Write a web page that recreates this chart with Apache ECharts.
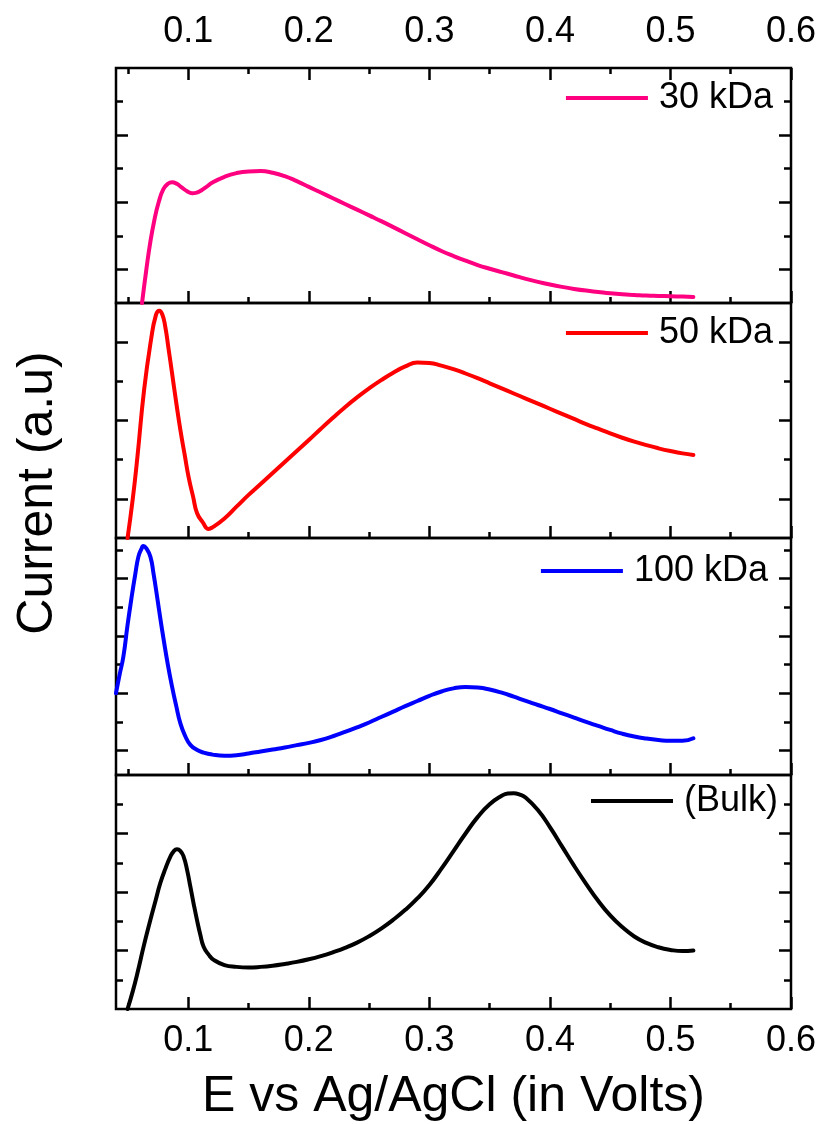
<!DOCTYPE html>
<html>
<head>
<meta charset="utf-8">
<script src="https://cdn.jsdelivr.net/npm/echarts@6/dist/echarts.min.js"></script>
<style>html,body{margin:0;padding:0;background:#fff}#c{width:824px;height:1124px}</style>
</head>
<body>
<div id="c"></div>
<script>
// ---------- data ----------
const xTickValues = [0.1, 0.2, 0.3, 0.4, 0.5, 0.6];
const xMinorTickValues = [0.05, 0.15, 0.25, 0.35, 0.45, 0.55];
const seriesNames = ['30 kDa', '50 kDa', '100 kDa', '(Bulk)'];

const x30 = [0.0616, 0.0650, 0.0685, 0.0720, 0.0754, 0.0793, 0.0830, 0.0865, 0.0905, 0.0942, 0.0990, 0.1031, 0.1070, 0.1110, 0.1150,
  0.12, 0.13, 0.14, 0.15, 0.16, 0.17, 0.18, 0.19, 0.20, 0.21, 0.22, 0.23, 0.24, 0.25, 0.26, 0.27, 0.28, 0.29, 0.30,
  0.31, 0.32, 0.33, 0.34, 0.35, 0.36, 0.37, 0.38, 0.39, 0.40, 0.41, 0.42, 0.43, 0.44, 0.45, 0.46, 0.47, 0.48, 0.49, 0.50, 0.51, 0.519];
const y30 = [0, 0.95, 1.82, 2.50, 3.0, 3.39, 3.55, 3.60, 3.55, 3.45, 3.33, 3.27, 3.29, 3.36, 3.46,
  3.59, 3.76, 3.87, 3.92, 3.93, 3.88, 3.78, 3.63, 3.46, 3.29, 3.12, 2.95, 2.78, 2.61, 2.44, 2.26, 2.08, 1.90, 1.72,
  1.55, 1.40, 1.26, 1.13, 1.02, 0.92, 0.82, 0.72, 0.63, 0.55, 0.48, 0.42, 0.37, 0.33, 0.29, 0.26, 0.24, 0.22, 0.21, 0.20, 0.19, 0.18];

const x50 = [0.0496, 0.0540, 0.0578, 0.0633, 0.0690, 0.0731, 0.0759, 0.0785, 0.0809, 0.0835, 0.0865, 0.0900, 0.0934, 0.0970, 0.1002, 0.1040, 0.1072, 0.1120, 0.1168,
  0.12, 0.13, 0.14, 0.15, 0.16, 0.17, 0.18, 0.19, 0.20, 0.21, 0.22, 0.23, 0.24, 0.25, 0.26, 0.27, 0.28, 0.29, 0.30,
  0.31, 0.32, 0.33, 0.34, 0.35, 0.36, 0.37, 0.38, 0.39, 0.40, 0.41, 0.42, 0.43, 0.44, 0.45, 0.46, 0.47, 0.48, 0.49, 0.50, 0.51, 0.519];
const y50 = [0, 1.02, 2.08, 3.78, 5.05, 5.69, 5.80, 5.70, 5.39, 4.85, 4.21, 3.45, 2.76, 2.12, 1.56, 1.05, 0.64, 0.40, 0.23,
  0.27, 0.50, 0.80, 1.10, 1.38, 1.66, 1.94, 2.22, 2.50, 2.79, 3.07, 3.34, 3.59, 3.82, 4.03, 4.22, 4.38, 4.48, 4.47,
  4.40, 4.31, 4.20, 4.08, 3.95, 3.82, 3.69, 3.56, 3.43, 3.30, 3.17, 3.04, 2.91, 2.79, 2.67, 2.56, 2.46, 2.37, 2.29, 2.22, 2.16, 2.12];

const x100 = [0.0400, 0.0430, 0.0461, 0.0495, 0.0530, 0.0560, 0.0586, 0.0610, 0.0627, 0.0650, 0.0685, 0.0712, 0.0741, 0.0768, 0.0796, 0.0830, 0.0865, 0.0900, 0.0934, 0.0975, 0.1017, 0.1070, 0.1127,
  0.12, 0.13, 0.14, 0.15, 0.16, 0.17, 0.18, 0.19, 0.20, 0.21, 0.22, 0.23, 0.24, 0.25, 0.26, 0.27, 0.28, 0.29, 0.30,
  0.31, 0.32, 0.33, 0.34, 0.35, 0.36, 0.37, 0.38, 0.39, 0.40, 0.41, 0.42, 0.43, 0.44, 0.45, 0.46, 0.47, 0.48, 0.49, 0.50, 0.51, 0.519];
const y100 = [2.85, 3.50, 4.12, 5.20, 6.21, 7.00, 7.61, 7.87, 7.98, 7.91, 7.61, 7.00, 6.21, 5.45, 4.70, 3.85, 3.08, 2.40, 1.80, 1.35, 1.05, 0.88, 0.78,
  0.71, 0.67, 0.69, 0.75, 0.82, 0.89, 0.96, 1.04, 1.12, 1.22, 1.35, 1.50, 1.66, 1.83, 2.02, 2.21, 2.40, 2.58, 2.76,
  2.91, 3.02, 3.07, 3.05, 2.98, 2.87, 2.73, 2.58, 2.44, 2.30, 2.15, 2.00, 1.85, 1.71, 1.57, 1.44, 1.34, 1.27, 1.22, 1.19, 1.19, 1.28];

const xBulk = [0.0496, 0.0540, 0.0578, 0.0630, 0.0685, 0.0728, 0.0768, 0.0810, 0.0851, 0.0880, 0.0906, 0.0935, 0.0961, 0.0990, 0.1017, 0.1045, 0.1072, 0.1100, 0.1127, 0.1170, 0.1210,
  0.13, 0.14, 0.15, 0.16, 0.17, 0.18, 0.19, 0.20, 0.21, 0.22, 0.23, 0.24, 0.25, 0.26, 0.27, 0.28, 0.29, 0.30,
  0.31, 0.32, 0.33, 0.34, 0.35, 0.36, 0.365, 0.37, 0.375, 0.38, 0.39, 0.40, 0.41, 0.42, 0.43, 0.44, 0.45, 0.46, 0.47, 0.48, 0.49, 0.50, 0.51, 0.519];
const yBulk = [0, 0.62, 1.23, 2.15, 3.04, 3.70, 4.31, 4.80, 5.21, 5.40, 5.46, 5.40, 5.21, 4.75, 4.18, 3.58, 3.04, 2.53, 2.13, 1.85, 1.68,
  1.50, 1.44, 1.42, 1.44, 1.48, 1.54, 1.61, 1.70, 1.81, 1.94, 2.09, 2.27, 2.49, 2.75, 3.05, 3.39, 3.78, 4.24,
  4.80, 5.40, 6.00, 6.56, 7.00, 7.29, 7.37, 7.38, 7.33, 7.22, 6.80, 6.22, 5.56, 4.90, 4.28, 3.70, 3.20, 2.80, 2.48, 2.26, 2.11, 2.02, 1.98, 2.00];

// per-panel y scales (arbitrary units) and tick positions
const yMaxes = [7, 6, 8.26, 8];
const yLongTicks = [[1, 3, 5], [1, 3, 5], [0.85, 2.85, 4.85, 6.85], [2, 4, 6]];
const yShortTicks = [[2, 4, 6], [2, 4], [1.85, 3.85, 5.85, 7.85], [1, 3, 5, 7]];

const seriesX = [x30, x50, x100, xBulk];
const seriesY = [y30, y50, y100, yBulk];

// ---------- styling / layout ----------
const FONT = '"Liberation Sans", Arial, Helvetica, sans-serif';
const colors = ['#ff0080', '#ff0000', '#0000ff', '#000000'];
const panelTop = [68, 303, 538, 775];
const panelBottom = [303, 538, 775, 1009];
const legendTop = [80, 315, 553, 783];
const legendRight = [51, 51, 56, 46];
const tickLine = { color: '#000', width: 2.5 };

const grids = [], xAxes = [], yAxes = [], series = [], legends = [];

for (let i = 0; i < 4; i++) {
  grids.push({
    left: 116, right: 33, top: panelTop[i], height: panelBottom[i] - panelTop[i],
    show: true, borderColor: '#000', borderWidth: 2.5, backgroundColor: 'transparent'
  });
  const xMainIndex = xAxes.length;
  const baseX = {
    gridIndex: i, type: 'value', min: 0.04, max: 0.6,
    axisLine: { show: false, onZero: false }, splitLine: { show: false }
  };
  xAxes.push(Object.assign({}, baseX, {
    position: 'bottom',
    axisTick: { show: true, inside: true, length: 12, customValues: xTickValues, lineStyle: tickLine },
    axisLabel: {
      show: i === 3, customValues: xTickValues, margin: 14,
      fontSize: 36, color: '#000', fontFamily: FONT,
      formatter: v => String(+v.toFixed(2))
    },
    name: i === 3 ? 'E vs Ag/AgCl (in Volts)' : '',
    nameLocation: 'middle', nameGap: 63,
    nameTextStyle: { fontSize: 50, color: '#000', fontFamily: FONT }
  }));
  xAxes.push(Object.assign({}, baseX, {
    position: 'bottom',
    axisTick: { show: true, inside: true, length: 6, customValues: xMinorTickValues, lineStyle: tickLine },
    axisLabel: { show: false }
  }));
  if (i === 0) {
    xAxes.push(Object.assign({}, baseX, {
      position: 'top',
      axisTick: { show: true, inside: true, length: 12, customValues: xTickValues, lineStyle: tickLine },
      axisLabel: {
        show: true, customValues: xTickValues, margin: 18,
        fontSize: 36, color: '#000', fontFamily: FONT,
        formatter: v => String(+v.toFixed(2))
      }
    }));
    xAxes.push(Object.assign({}, baseX, {
      position: 'top',
      axisTick: { show: true, inside: true, length: 6, customValues: xMinorTickValues, lineStyle: tickLine },
      axisLabel: { show: false }
    }));
  }
  const yMainIndex = yAxes.length;
  ['left', 'right'].forEach(pos => {
    [[yLongTicks[i], 12], [yShortTicks[i], 7]].forEach(([vals, len]) => {
      yAxes.push({
        gridIndex: i, type: 'value', min: 0, max: yMaxes[i], position: pos,
        axisLine: { show: false, onZero: false }, splitLine: { show: false },
        axisLabel: { show: false },
        axisTick: { show: true, inside: true, length: len, customValues: vals, lineStyle: tickLine }
      });
    });
  });
  series.push({
    name: seriesNames[i], type: 'line',
    xAxisIndex: xMainIndex, yAxisIndex: yMainIndex,
    data: seriesX[i].map((x, k) => [x, seriesY[i][k]]),
    showSymbol: false, smooth: 0.5,
    lineStyle: { color: colors[i], width: 4, join: 'round', cap: 'round' }, itemStyle: { color: colors[i] },
    clip: true
  });
  legends.push({
    data: [seriesNames[i]], right: legendRight[i], top: legendTop[i], padding: 0,
    icon: 'rect', itemWidth: 82, itemHeight: 4, selectedMode: false,
    textStyle: { fontSize: 36, lineHeight: 36, color: '#000', fontFamily: FONT, padding: [0, 0, 0, 6] }
  });
}

const chart = echarts.init(document.getElementById('c'), null, { renderer: 'canvas' });
chart.setOption({
  animation: false,
  backgroundColor: '#fff',
  grid: grids, xAxis: xAxes, yAxis: yAxes, series: series, legend: legends,
  graphic: [{
    type: 'text', x: 38, y: 493, rotation: Math.PI / 2,
    style: { text: 'Current (a.u)', fontSize: 50, fontFamily: FONT, fill: '#000', textAlign: 'center', textVerticalAlign: 'middle' }
  }]
});
</script>
</body>
</html>
